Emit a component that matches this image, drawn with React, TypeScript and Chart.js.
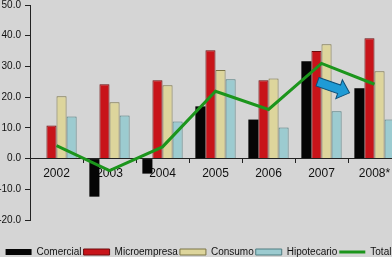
import React, { useEffect, useRef } from "react";
import { Chart, registerables } from "chart.js";

Chart.register(...registerables);

const categories = ["2002", "2003", "2004", "2005", "2006", "2007", "2008*"];
const comercial = [0, -12.4, -4.9, 17.0, 12.7, 31.7, 22.9];
const microempresa = [10.8, 24.2, 25.5, 35.3, 25.5, 35.0, 39.2];
const consumo = [20.3, 18.3, 23.9, 28.8, 26.1, 37.2, 28.4];
const hipotecario = [13.7, 14.0, 12.1, 25.8, 10.1, 15.4, 12.7];
const total = [4.2, -3.9, 3.8, 21.9, 16.0, 31.0, 24.2];
const yTicks = [-20, -10, 0, 10, 20, 30, 40, 50];

const FONT = "'Liberation Sans', Arial, sans-serif";
const BG = "#d5d5d5";

const arrowPlugin = {
  id: "arrowNote",
  afterDatasetsDraw(chart: any) {
    const xs = chart.scales.x;
    const ys = chart.scales.y;
    const ctx = chart.ctx;
    const x0 = xs.getPixelForValue(5) - 4;
    const y0 = ys.getPixelForValue(25.0);
    const x1 = xs.getPixelForValue(6) - 25;
    const y1 = ys.getPixelForValue(21.4);
    const ang = Math.atan2(y1 - y0, x1 - x0);
    const len = Math.hypot(x1 - x0, y1 - y0);
    const sw = 4.5, hw = 10, hl = 11;
    ctx.save();
    ctx.translate(x0, y0);
    ctx.rotate(ang);
    ctx.beginPath();
    ctx.moveTo(0, -sw);
    ctx.lineTo(len - hl, -sw);
    ctx.lineTo(len - hl, -hw);
    ctx.lineTo(len, 0);
    ctx.lineTo(len - hl, hw);
    ctx.lineTo(len - hl, sw);
    ctx.lineTo(0, sw);
    ctx.closePath();
    ctx.fillStyle = "#1f9bd6";
    ctx.fill();
    ctx.lineWidth = 1;
    ctx.strokeStyle = "#0d4f78";
    ctx.stroke();
    ctx.restore();
  },
};

export default function App() {
  const ref = useRef<HTMLCanvasElement | null>(null);
  useEffect(() => {
    if (!ref.current) return;
    const chart = new Chart(ref.current, {
      type: "bar",
      data: {
        labels: categories,
        datasets: [
          { label: "Comercial", data: comercial, backgroundColor: "#050505", borderColor: "#000", borderWidth: 0, pointStyle: "rect" },
          { label: "Microempresa", data: microempresa, backgroundColor: "#c8141a", borderColor: "#6e0a0c", borderWidth: 1, pointStyle: "rect" },
          { label: "Consumo", data: consumo, backgroundColor: "#ddd59c", borderColor: "#7b7446", borderWidth: 1, pointStyle: "rect" },
          { label: "Hipotecario", data: hipotecario, backgroundColor: "#9ccbd0", borderColor: "#4f7c80", borderWidth: 1, pointStyle: "rect" },
          {
            type: "line",
            label: "Total",
            data: total,
            borderColor: "#1c951c",
            backgroundColor: "#1c951c",
            borderWidth: 3,
            pointRadius: 0,
            pointStyle: "line",
            tension: 0,
            order: -1,
          } as any,
        ],
      },
      options: {
        responsive: false,
        animation: false,
        layout: { padding: { top: 5, left: 0, right: 0, bottom: 0 } },
        datasets: { bar: { categoryPercentage: 0.76, barPercentage: 1 } } as any,
        plugins: {
          legend: {
            position: "bottom",
            title: { display: true, text: " ", font: { size: 10 }, padding: { top: 13, bottom: 0 } },
            labels: {
              usePointStyle: true,
              pointStyleWidth: 26,
              boxHeight: 6,
              padding: 2,
              color: "#111",
              font: { family: FONT, size: 10 },
              sort: (a: any, b: any) => a.datasetIndex - b.datasetIndex,
            },
          },
          tooltip: { enabled: false },
        },
        scales: {
          x: {
            position: { y: 0 } as any,
            grid: { display: true, drawOnChartArea: false, drawTicks: true, tickLength: 4, color: "#222" },
            border: { display: true, color: "#222", width: 1 },
            ticks: { color: "#111", font: { family: FONT, size: 12 }, padding: 4 },
          },
          y: {
            min: -20,
            max: 50,
            afterBuildTicks: (s: any) => {
              s.ticks = yTicks.map((v) => ({ value: v }));
            },
            afterFit: (s: any) => {
              s.width = 34;
              s.paddingTop = 0;
            },
            grid: { display: true, drawOnChartArea: false, drawTicks: true, tickLength: 5, color: "#222" },
            border: { display: true, color: "#222", width: 1 },
            ticks: {
              color: "#111",
              font: { family: FONT, size: 10 },
              padding: 4,
              callback: (v: any) => Number(v).toFixed(1),
            },
          },
        },
      },
      plugins: [arrowPlugin],
    });
    return () => chart.destroy();
  }, []);
  return (
    <div style={{ position: "fixed", left: 0, top: 0, width: 392, height: 257, overflow: "hidden", background: BG }}>
      <canvas ref={ref} width={405} height={267} style={{ display: "block", marginLeft: -4 }} />
    </div>
  );
}
